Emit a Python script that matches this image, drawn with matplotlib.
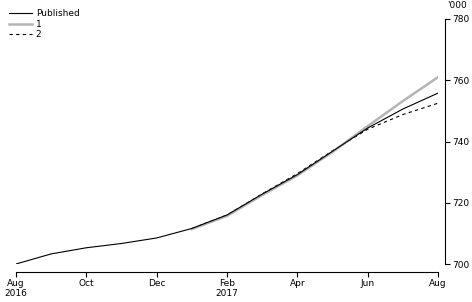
import matplotlib.pyplot as plt
import numpy as np

# months since Aug 2016
months = np.arange(13)
published = [700.0, 703.3, 705.3, 706.7, 708.5, 711.6, 716.0, 722.8, 729.2, 736.8, 744.4, 750.6, 755.8]

months_fc = np.arange(5, 13)
series1 = [711.4, 715.7, 722.5, 728.9, 736.6, 745.0, 753.2, 761.0]
series2 = [711.6, 716.0, 722.9, 729.5, 737.0, 744.0, 748.8, 752.5]

tick_pos = [0, 2, 4, 6, 8, 10, 12]
tick_labels = ["Aug\n2016", "Oct", "Dec", "Feb\n2017", "Apr", "Jun", "Aug"]

fig = plt.figure(figsize=(4.72, 3.02), dpi=100)
ax = fig.add_axes([16/472, 38/302, 422/472, 245/302])

ax.plot(months, published, color="black", lw=0.8, label="Published", zorder=3)
ax.plot(months_fc, series1, color="#b4b4b4", lw=1.8, label="1", zorder=2)
ax.plot(months_fc, series2, color="black", lw=0.8, ls=(0, (3, 3)), label="2", zorder=1)

ax.set_xlim(0, 12)
ax.set_ylim(700, 780)

# spines
for s in ["top", "left"]:
    ax.spines[s].set_visible(False)
ax.spines["right"].set_position(("outward", 5))
ax.spines["bottom"].set_position(("outward", 6))
ax.spines["right"].set_bounds(700, 780)
ax.spines["bottom"].set_bounds(0, 12)
ax.spines["right"].set_linewidth(0.8)
ax.spines["bottom"].set_linewidth(0.8)

ax.yaxis.tick_right()
ax.set_yticks([700, 720, 740, 760, 780])
ax.set_xticks(tick_pos)
ax.set_xticklabels(tick_labels)
ax.tick_params(axis="both", direction="out", length=3.5, width=0.8, labelsize=6.5, pad=1.5)
ax.tick_params(axis="x", pad=1)

fig.text(447/472, 1 - 6/302, "'000", fontsize=6.5, va="center", ha="left")

fig.legend(loc="upper left", bbox_to_anchor=(0.005, 0.99), frameon=False,
           fontsize=6.5, handlelength=2.6, handletextpad=0.4, labelspacing=0.15,
           borderaxespad=0.3)

fig.savefig("out.png", dpi=100)
